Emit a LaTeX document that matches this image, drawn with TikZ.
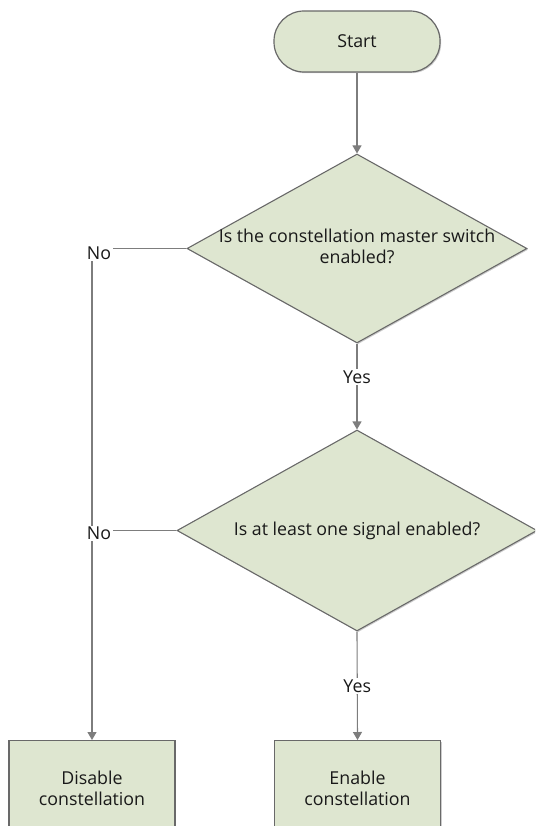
\documentclass[tikz,border=0pt]{standalone}
\usepackage{fontspec}
\setmainfont{Open Sans}
\usetikzlibrary{shapes.geometric,arrows.meta,shadows}
\definecolor{boxfill}{RGB}{222,230,208}
\definecolor{boxline}{RGB}{105,105,105}
\definecolor{conn}{RGB}{125,125,125}
\definecolor{txt}{RGB}{25,25,25}
\tikzset{
  every node/.style={font=\fontsize{17.8}{21}\selectfont, text=txt},
  shade/.style={drop shadow={shadow xshift=1.2pt, shadow yshift=-1.2pt, opacity=0.2, fill=black}},
  terminal/.style={draw=boxline, fill=boxfill, line width=1.2pt, rectangle, rounded corners=30pt,
    minimum width=166pt, minimum height=61pt, inner sep=0pt, shade},
  decision/.style={draw=boxline, fill=boxfill, line width=1.1pt, diamond, inner sep=0pt, shade},
  process/.style={draw=boxline, fill=boxfill, line width=1.2pt, rectangle, align=center,
    minimum width=166pt, minimum height=96pt, inner sep=0pt, shade},
  conn/.style={draw=conn, line width=1.1pt},
  arr/.style={conn, -{Triangle[length=8pt, width=9pt]}},
  lbl/.style={fill=white, inner sep=1.5pt},
}
\begin{document}
\begin{tikzpicture}[x=1pt, y=-1pt]
\useasboundingbox (0,0) rectangle (535,826);
\clip (0,0) rectangle (535,826);
\node[terminal] (start) at (357,41.5) {Start};
\node[decision, minimum width=340pt, minimum height=189pt] (d1) at (357,248.5)
  {\makebox[0pt]{\begin{tabular}{@{}c@{}}Is the constellation master switch\\enabled?\end{tabular}}};
\node[decision, minimum width=360pt, minimum height=201pt] (d2) at (357,530.5)
  {\makebox[0pt]{Is at least one signal enabled?}};
\node[process, anchor=north] (dis) at (92,740) {Disable\\constellation};
\node[process, anchor=north] (en) at (357.5,740) {Enable\\constellation};
\draw[arr] (start) -- (d1.north);
\draw[arr] (d1.south) -- node[lbl, pos=0.39] {Yes} (d2.north);
\draw[arr] (d2.south) -- node[lbl, pos=0.5] {Yes} (en.north);
\draw[arr] (d1.west) -- (d1.west -| dis.north) node[lbl, xshift=7pt, yshift=-5pt] {No} -- (dis.north);
\draw[conn] (d2.west) -- (d2.west -| dis.north) node[lbl, xshift=7pt, yshift=-3pt] {No};
\end{tikzpicture}
\end{document}
